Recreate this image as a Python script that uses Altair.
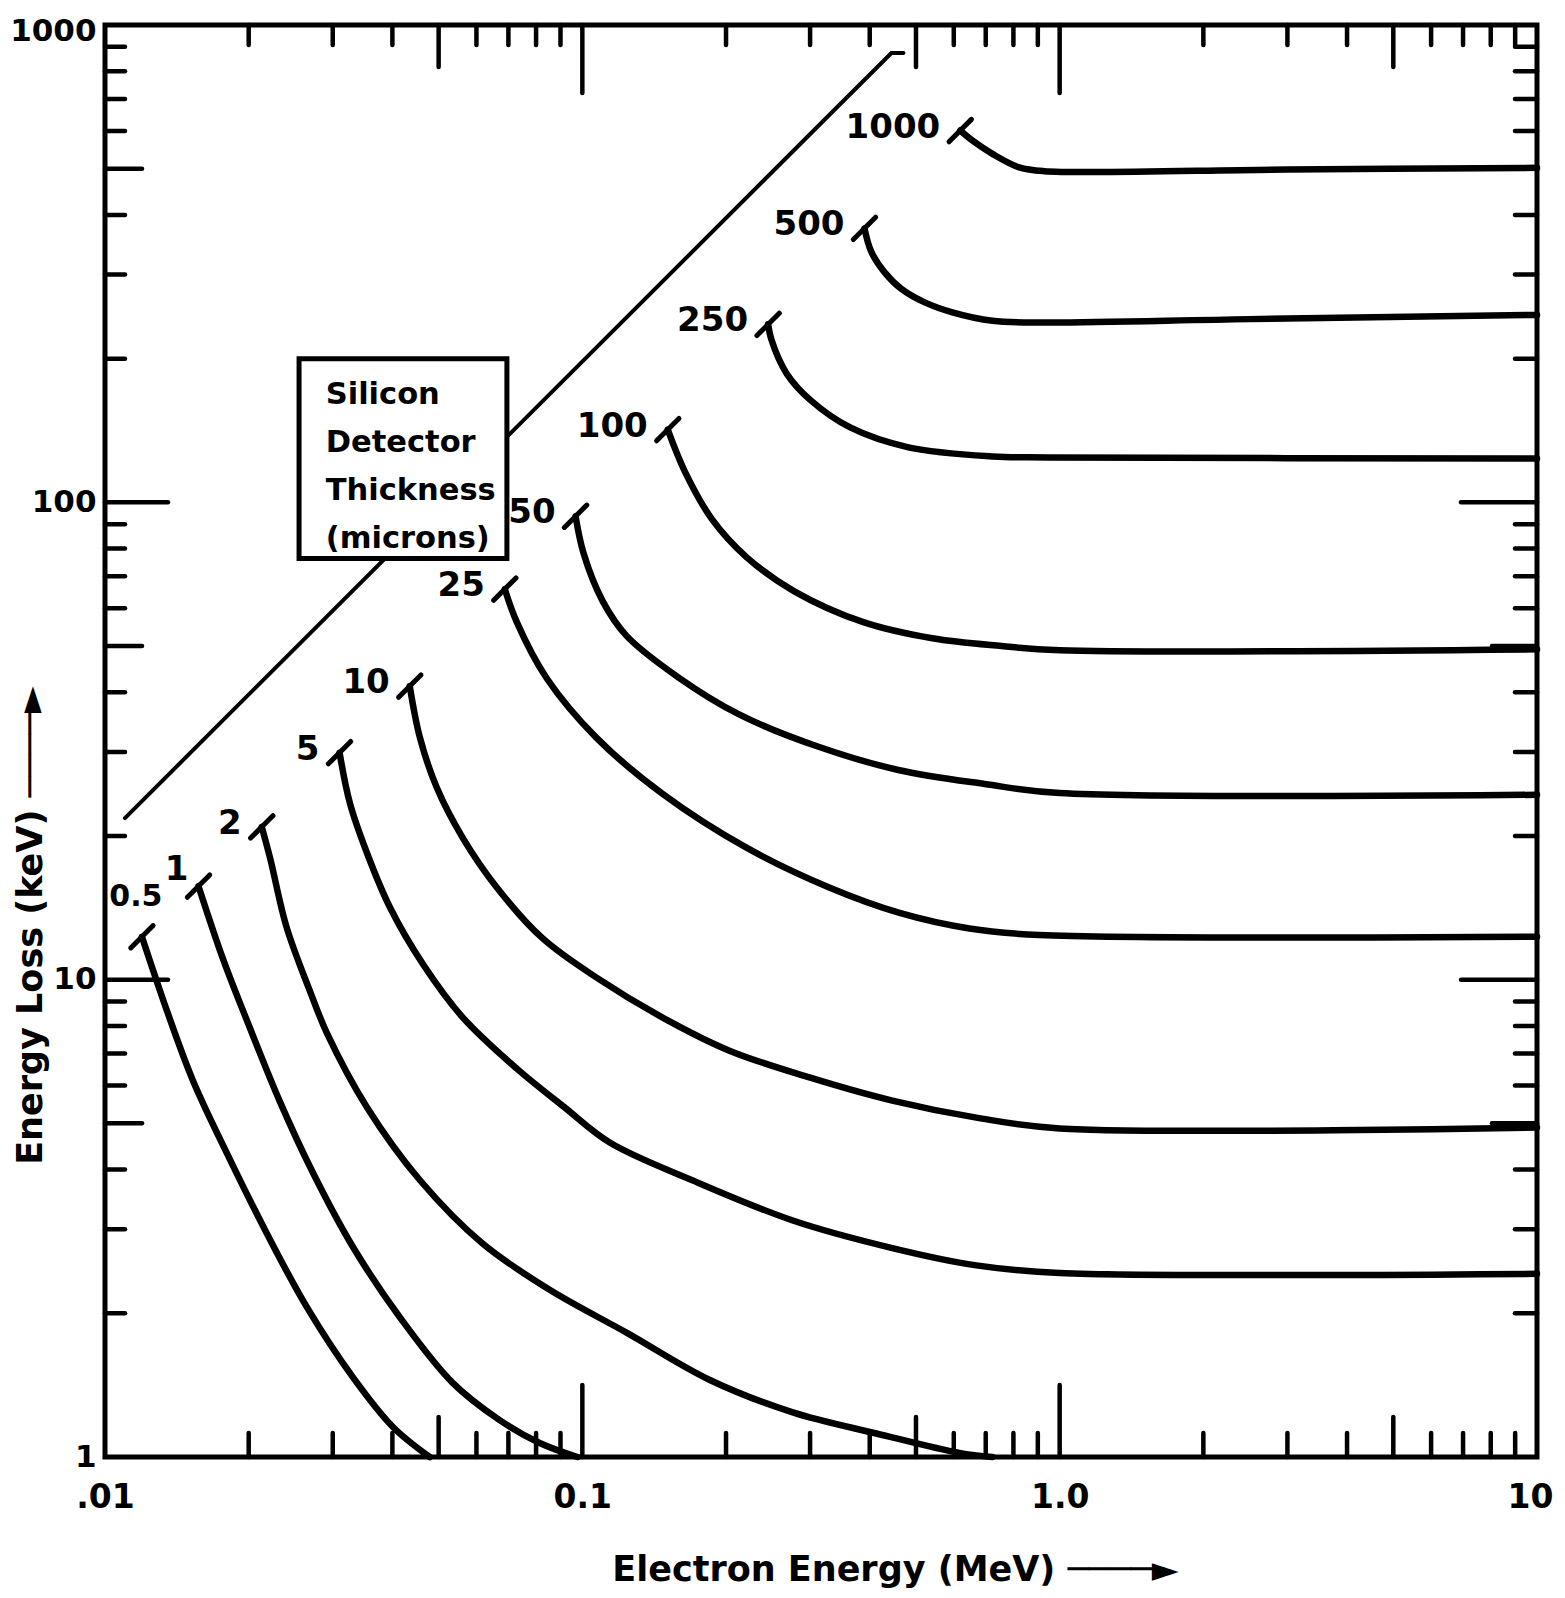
import altair as alt
import pandas as pd

# ---- curve data: electron energy (MeV) vs energy loss (keV), by silicon thickness (microns)
t1000_E = [0.619, 0.656, 0.723, 0.823, 0.928, 3.0, 10.0]
t1000_L = [601, 573, 537, 503, 494, 498, 502]
t500_E = [0.390, 0.403, 0.429, 0.466, 0.523, 0.596, 0.723, 0.928, 2.5, 10.0]
t500_L = [375, 335, 304, 280, 262, 250, 240, 238, 242, 247]
t250_E = [0.245, 0.249, 0.268, 0.301, 0.364, 0.482, 0.723, 0.951, 10.0]
t250_L = [236, 219, 186, 163.5, 143.5, 130.4, 124.8, 124.2, 123.6]
t100_E = [0.151, 0.164, 0.187, 0.221, 0.278, 0.388, 0.541, 0.755, 1.0, 10.0]
t100_L = [142, 116, 92.1, 76.7, 65.1, 56.1, 51.9, 50.0, 49.0, 49.2]
t50_E = [0.0968, 0.1006, 0.1103, 0.1238, 0.1583, 0.2135, 0.308, 0.459, 0.696, 1.0, 10.0]
t50_L = [93.5, 78.2, 62.1, 52.5, 43.1, 35.9, 30.9, 27.5, 25.7, 24.6, 24.4]
t25_E = [0.0688, 0.0729, 0.0842, 0.1071, 0.1473, 0.2207, 0.329, 0.462, 0.647, 0.906, 10.0]
t25_L = [65.8, 56.1, 42.8, 32.1, 24.5, 18.9, 15.6, 13.8, 12.8, 12.4, 12.3]
t10_E = [0.0435, 0.0457, 0.0496, 0.0562, 0.0662, 0.0826, 0.1071, 0.1473, 0.2033, 0.299, 0.446, 0.669, 1.0, 10.0]
t10_L = [41.2, 32.1, 25.2, 19.8, 15.6, 12.2, 10.1, 8.33, 7.10, 6.24, 5.58, 5.14, 4.88, 4.9]
t5_E = [0.0310, 0.0326, 0.0354, 0.0395, 0.0463, 0.0562, 0.0729, 0.0918, 0.1141, 0.170, 0.276, 0.446, 0.669, 1.0, 10.0]
t5_L = [29.9, 23.4, 18.4, 14.2, 10.8, 8.33, 6.51, 5.40, 4.56, 3.80, 3.13, 2.74, 2.52, 2.43, 2.42]
t2_E = [0.0213, 0.0222, 0.0240, 0.0270, 0.0292, 0.0354, 0.0457, 0.0618, 0.0854, 0.124, 0.185, 0.276, 0.413, 0.616, 0.723]
t2_L = [20.9, 17.9, 12.9, 9.35, 7.71, 5.40, 3.80, 2.80, 2.24, 1.82, 1.45, 1.24, 1.12, 1.02, 1.0]
t1_E = [0.0157, 0.0177, 0.0201, 0.0232, 0.0273, 0.0331, 0.0415, 0.0535, 0.0671, 0.0814, 0.0977]
t1_L = [15.7, 11.0, 7.94, 5.58, 3.93, 2.75, 1.96, 1.43, 1.195, 1.07, 1.0]
t05_E = [0.01195, 0.01348, 0.01528, 0.0180, 0.02183, 0.02648, 0.03305, 0.0401, 0.0479]
t05_L = [12.3, 8.61, 6.15, 4.33, 2.94, 2.06, 1.47, 1.156, 1.0]

thickness_labels = ["1000", "500", "250", "100", "50", "25", "10", "5", "2", "1", "0.5"]
series_E = [t1000_E, t500_E, t250_E, t100_E, t50_E, t25_E, t10_E, t5_E, t2_E, t1_E, t05_E]
series_L = [t1000_L, t500_L, t250_L, t100_L, t50_L, t25_L, t10_L, t5_L, t2_L, t1_L, t05_L]

# diagonal boundary line
diag_E = [0.01101, 0.4441, 0.4707]
diag_L = [21.8, 873.6, 873.6]

# legend box (data coordinates) and its text
box_E = [0.0255, 0.0695]
box_L = [76.3, 200.0]
box_text = ["Silicon", "Detector", "Thickness", "(microns)"]
box_text_E = 0.029
box_text_L = 161.0

# axis tick values
x_label_values = [0.01, 0.1, 1, 10]
y_label_values = [1, 10, 100, 1000]
x_minor = [0.02, 0.03, 0.04, 0.06, 0.07, 0.08, 0.09, 0.2, 0.3, 0.4, 0.6, 0.7, 0.8, 0.9, 2, 3, 4, 6, 7, 8, 9]
x_mid = [0.05, 0.5, 5]
x_major = [0.1, 1]
y_minor = [2, 3, 4, 6, 7, 8, 9, 20, 30, 40, 60, 70, 80, 90, 200, 300, 400, 600, 700, 800, 900]
y_mid = [5, 50, 500]
y_major = [10, 100]

# ---- build tables
rows = []
for lab, Es, Ls in zip(thickness_labels, series_E, series_L):
    for i, (e, l) in enumerate(zip(Es, Ls)):
        rows.append({"t": lab, "E": e, "L": l, "i": i})
curves = pd.DataFrame(rows)
starts = curves[curves["i"] == 0].reset_index(drop=True)
diag = pd.DataFrame({"E": diag_E, "L": diag_L, "i": list(range(len(diag_E)))})
box = pd.DataFrame({"E": [box_E[0]], "E2": [box_E[1]], "L": [box_L[0]], "L2": [box_L[1]]})
boxtxt = pd.DataFrame({"E": [box_text_E], "L": [box_text_L], "txt": [box_text]})

W, H = 1432, 1432
xs = alt.Scale(type="log", domain=[0.01, 10], nice=False)
ys = alt.Scale(type="log", domain=[1, 1000], nice=False)
FONT = "DejaVu Sans"
ARROW = "\u2500\u2500\u2500\u2500\u25ba"

label_expr = ("datum.value == 0.01 ? '.01' : datum.value == 0.1 ? '0.1' : "
              "datum.value == 1 ? '1.0' : '10'")

x_axis = alt.Axis(values=x_label_values, labelExpr=label_expr, ticks=False, domain=False,
                  grid=False, labelFont=FONT, labelFontWeight="bold",
                  labelFontSize=33, labelPadding=24, labelColor="black", labelFlush=False,
                  labelOverlap=False,
                  labelOffset={"condition": {"test": "datum.value == 10", "value": -7}, "value": 0},
                  title="Electron Energy (MeV) " + ARROW, titleFont=FONT,
                  titleFontSize=35, titleFontWeight="bold", titleColor="black",
                  titleX=790, titleY=112, titleAlign="center", titleBaseline="middle")
y_axis = alt.Axis(values=y_label_values, format="d", ticks=False, domain=False, grid=False,
                  labelFont=FONT, labelFontWeight="bold", labelFontSize=31,
                  labelPadding=9, labelColor="black", labelFlush=False, labelOverlap=False,
                  labelOffset={"condition": {"test": "datum.value == 1000", "value": 6}, "value": 0},
                  title="Energy Loss (keV) " + ARROW, titleFont=FONT,
                  titleFontSize=35, titleFontWeight="bold", titleColor="black",
                  titleX=-75, titleY=900, titleAngle=270, titleAlign="center",
                  titleBaseline="middle")


def X():
    return alt.X("E:Q", scale=xs, axis=x_axis)


def Y():
    return alt.Y("L:Q", scale=ys, axis=y_axis)


lines = alt.Chart(curves).mark_line(interpolate="catmull-rom", strokeWidth=6.5, color="black",
                                    strokeCap="round", strokeJoin="round").encode(
    x=X(), y=Y(), detail="t:N", order="i:Q")

start_ticks = alt.Chart(starts).mark_point(
    shape="M-1,1L1,-1", size=500, strokeWidth=5, color="black", filled=False,
    opacity=1, strokeCap="round").encode(x=X(), y=Y())

label_font = dict(font=FONT, fontWeight="bold", fontSize=34, color="black")
main_labels = alt.Chart(starts[~starts["t"].isin(["1", "0.5"])]).mark_text(
    align="right", baseline="middle", dx=-20, dy=-3, **label_font).encode(
    x=X(), y=Y(), text="t:N")
one_label = alt.Chart(starts[starts["t"] == "1"]).mark_text(
    align="right", baseline="middle", dx=-10, dy=-16, **label_font).encode(
    x=X(), y=Y(), text="t:N")
half_label = alt.Chart(starts[starts["t"] == "0.5"]).mark_text(
    align="center", baseline="middle", dx=-6, dy=-40, font=FONT, fontWeight="bold",
    fontSize=30, color="black").encode(
    x=X(), y=Y(), text="t:N")

diag_line = alt.Chart(diag).mark_line(strokeWidth=4, color="black", strokeCap="round").encode(
    x=X(), y=Y(), order="i:Q")

box_rect = alt.Chart(box).mark_rect(fill="white", stroke="black", strokeWidth=5).encode(
    x=X(), x2="E2:Q", y=Y(), y2="L2:Q")

box_label = alt.Chart(boxtxt).mark_text(
    align="left", baseline="alphabetic", lineHeight=48, font=FONT, fontWeight="bold",
    fontSize=30.5, color="black").encode(x=X(), y=Y(), text="txt")


def xticks(vals, length, where):
    df = pd.DataFrame({"E": vals})
    ch = alt.Chart(df).mark_rule(strokeWidth=4.5, color="black", strokeCap="round")
    if where == "bottom":
        return ch.encode(x=X(), y=alt.value(H), y2=alt.value(H - length))
    return ch.encode(x=X(), y=alt.value(0), y2=alt.value(length))


def yticks(vals, length, where):
    df = pd.DataFrame({"L": vals})
    ch = alt.Chart(df).mark_rule(strokeWidth=4.5, color="black", strokeCap="round")
    if where == "left":
        return ch.encode(y=Y(), x=alt.value(0), x2=alt.value(length))
    return ch.encode(y=Y(), x=alt.value(W), x2=alt.value(W - length))


tick_layers = [
    xticks(x_minor, 24, "bottom"), xticks(x_mid, 40, "bottom"), xticks(x_major, 72, "bottom"),
    xticks(x_minor, 20, "top"), xticks(x_mid, 42, "top"), xticks(x_major, 68, "top"),
    yticks(y_minor, 20, "left"), yticks(y_mid, 37, "left"), yticks(y_major, 63, "left"),
    yticks(y_minor, 22, "right"), yticks(y_mid, 45, "right"), yticks(y_major, 76, "right"),
]

chart = alt.layer(
    lines, *tick_layers, diag_line, box_rect, box_label, start_ticks,
    main_labels, one_label, half_label,
).properties(
    width=W, height=H,
    autosize=alt.AutoSizeParams(type="none"),
    padding={"left": 97, "top": 17, "right": 20, "bottom": 132},
    background="white",
).configure_view(stroke="black", strokeWidth=5)

chart.save("out.html", embed_options={"renderer": "svg", "actions": False})
